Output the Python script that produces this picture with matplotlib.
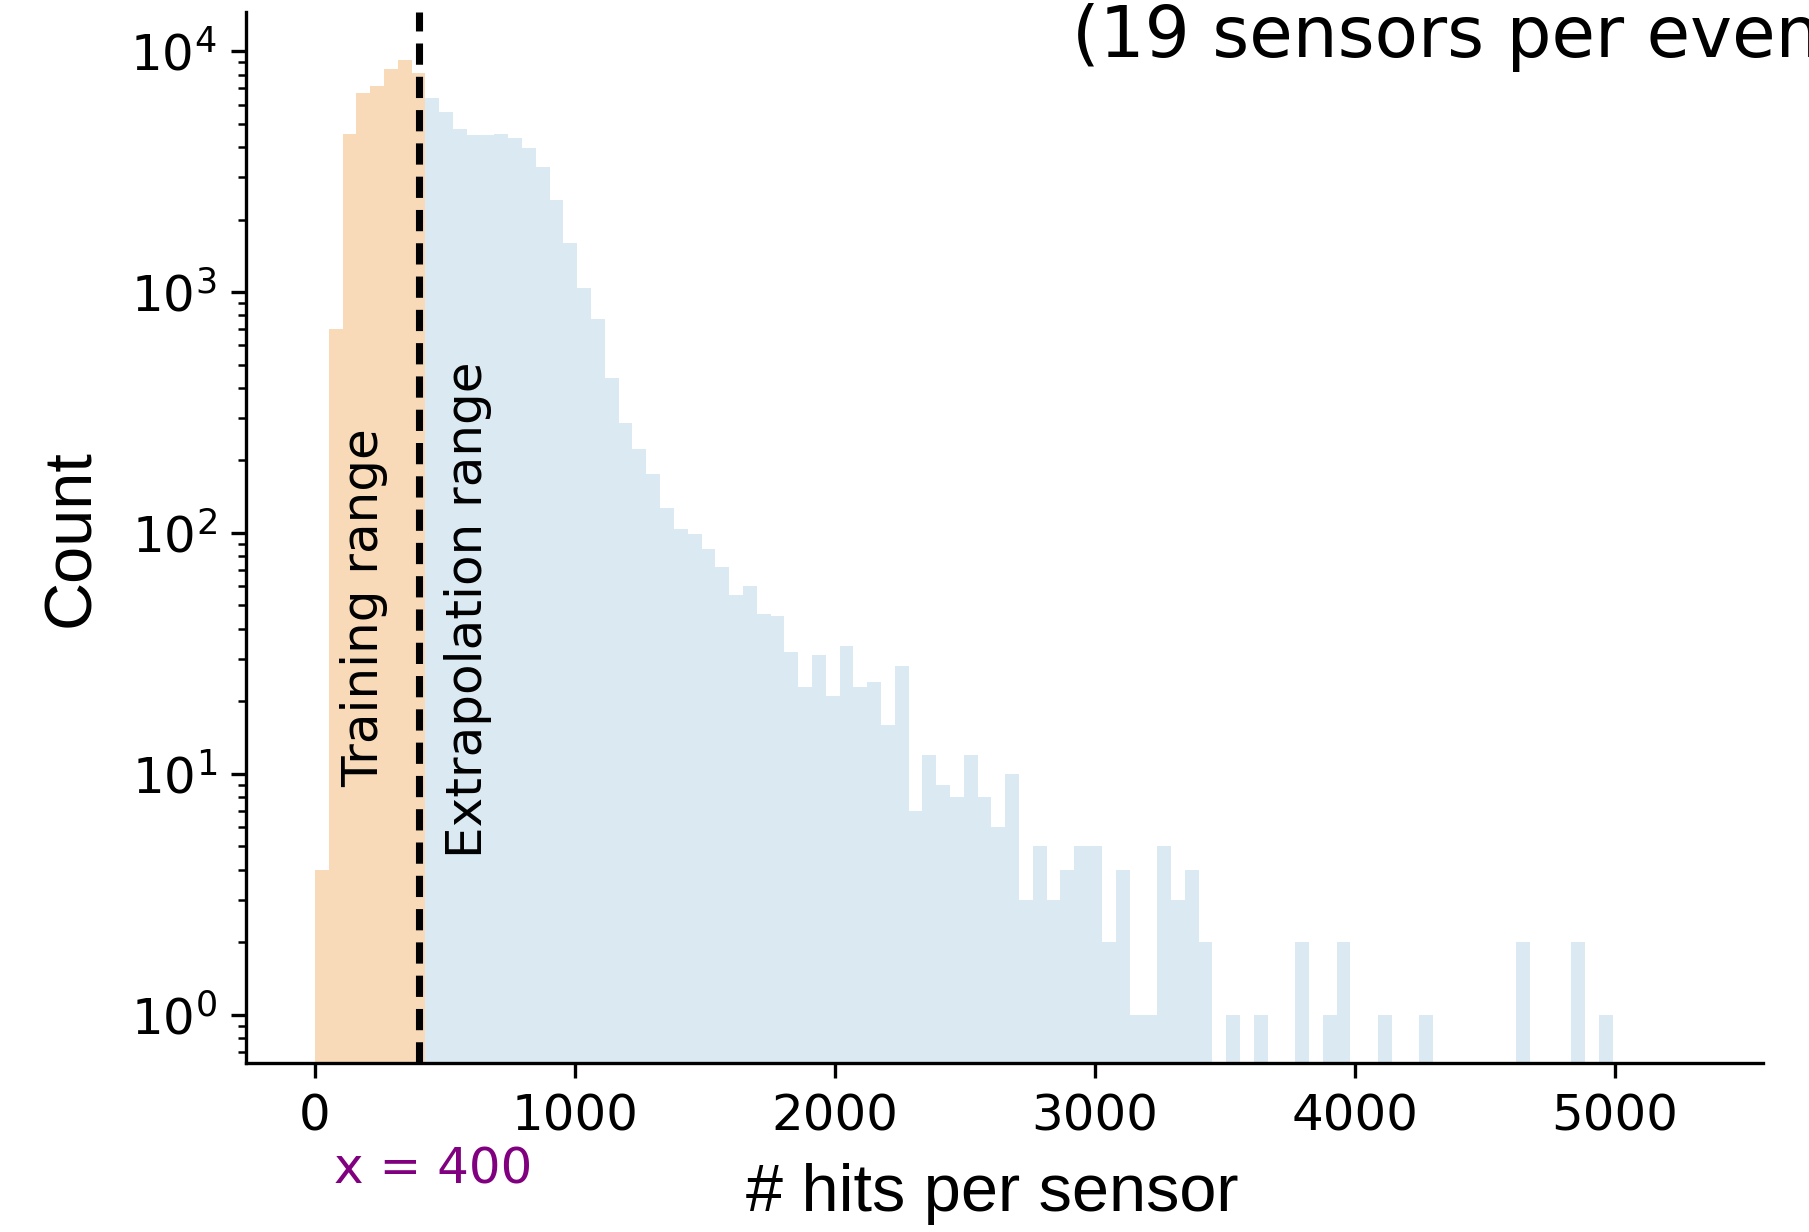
import numpy as np
import matplotlib.pyplot as plt
from matplotlib import transforms

# histogram of hits per sensor: 94 equal bins from 0 to ~4992
x_min, x_max, n_bins = 0, 4992, 94
cut = 400  # training / extrapolation boundary

train_counts = [4, 700, 4520, 6700, 7160, 8420, 9180, 8110]
extrap_counts = [6380, 5585, 4750, 4480, 4480, 4540, 4380, 3960, 3300, 2420,
                 1600, 1040, 770, 440, 286, 223, 176, 127, 104, 99,
                 86, 72, 55, 60, 46, 45, 32, 23, 31, 21,
                 34, 23, 24, 16, 28, 7, 12, 9, 8, 12,
                 8, 6, 10, 3, 5, 3, 4, 5, 5, 2,
                 4, 1, 1, 5, 3, 4, 2, 0, 1, 0,
                 1, 0, 0, 2, 0, 1, 2, 0, 0, 1,
                 0, 0, 1, 0, 0, 0, 0, 0, 0, 2,
                 0, 0, 0, 2, 0, 1]

x_ticks = [0, 1000, 2000, 3000, 4000, 5000]

edges = np.linspace(x_min, x_max, n_bins + 1)
widths = np.diff(edges)
n_train = len(train_counts)

fig = plt.figure(figsize=(1809 / 300, 1232 / 300), dpi=300)
ax = fig.add_axes([0.136, 0.1372, 0.8386, 0.8528])

ax.bar(edges[:n_train], train_counts, width=widths[:n_train], align='edge',
       color='#f8dab9', linewidth=0)
ax.bar(edges[n_train:-1], extrap_counts, width=widths[n_train:], align='edge',
       color='#dae9f2', linewidth=0)

ax.set_yscale('log')
ax.set_xlim(-265, 5570)
ax.set_ylim(0.63, 14500)
ax.set_xticks(x_ticks)
ax.tick_params(labelsize=12)

ax.axvline(cut, color='black', linewidth=1.7, linestyle=(0, (3.0, 1.7)))

ax.spines['top'].set_visible(False)
ax.spines['right'].set_visible(False)

lab_font = dict(family='Liberation Sans', size=16)
ax.set_xlabel('# hits per sensor', **lab_font)
ax.xaxis.set_label_coords(0.492, -0.095)
ax.set_ylabel('Count', **lab_font)
ax.yaxis.set_label_coords(-0.094, 0.5)

trans = transforms.blended_transform_factory(ax.transData, ax.transAxes)
ax.text(191, 0.433, 'Training range', rotation=90, ha='center', va='center',
        fontsize=12, transform=trans)
ax.text(588, 0.431, 'Extrapolation range', rotation=90, ha='center',
        va='center', fontsize=12, transform=trans)
ax.text(454, -0.101, 'x = 400', color='purple', ha='center', va='center',
        fontsize=12, transform=trans, clip_on=False)

# slide caption, runs off the right edge as in the source
fig.text(0.5926, 0.9537, '(19 sensors per event)', fontsize=17,
         va='baseline', ha='left')

fig.savefig('out.png', dpi=300)
